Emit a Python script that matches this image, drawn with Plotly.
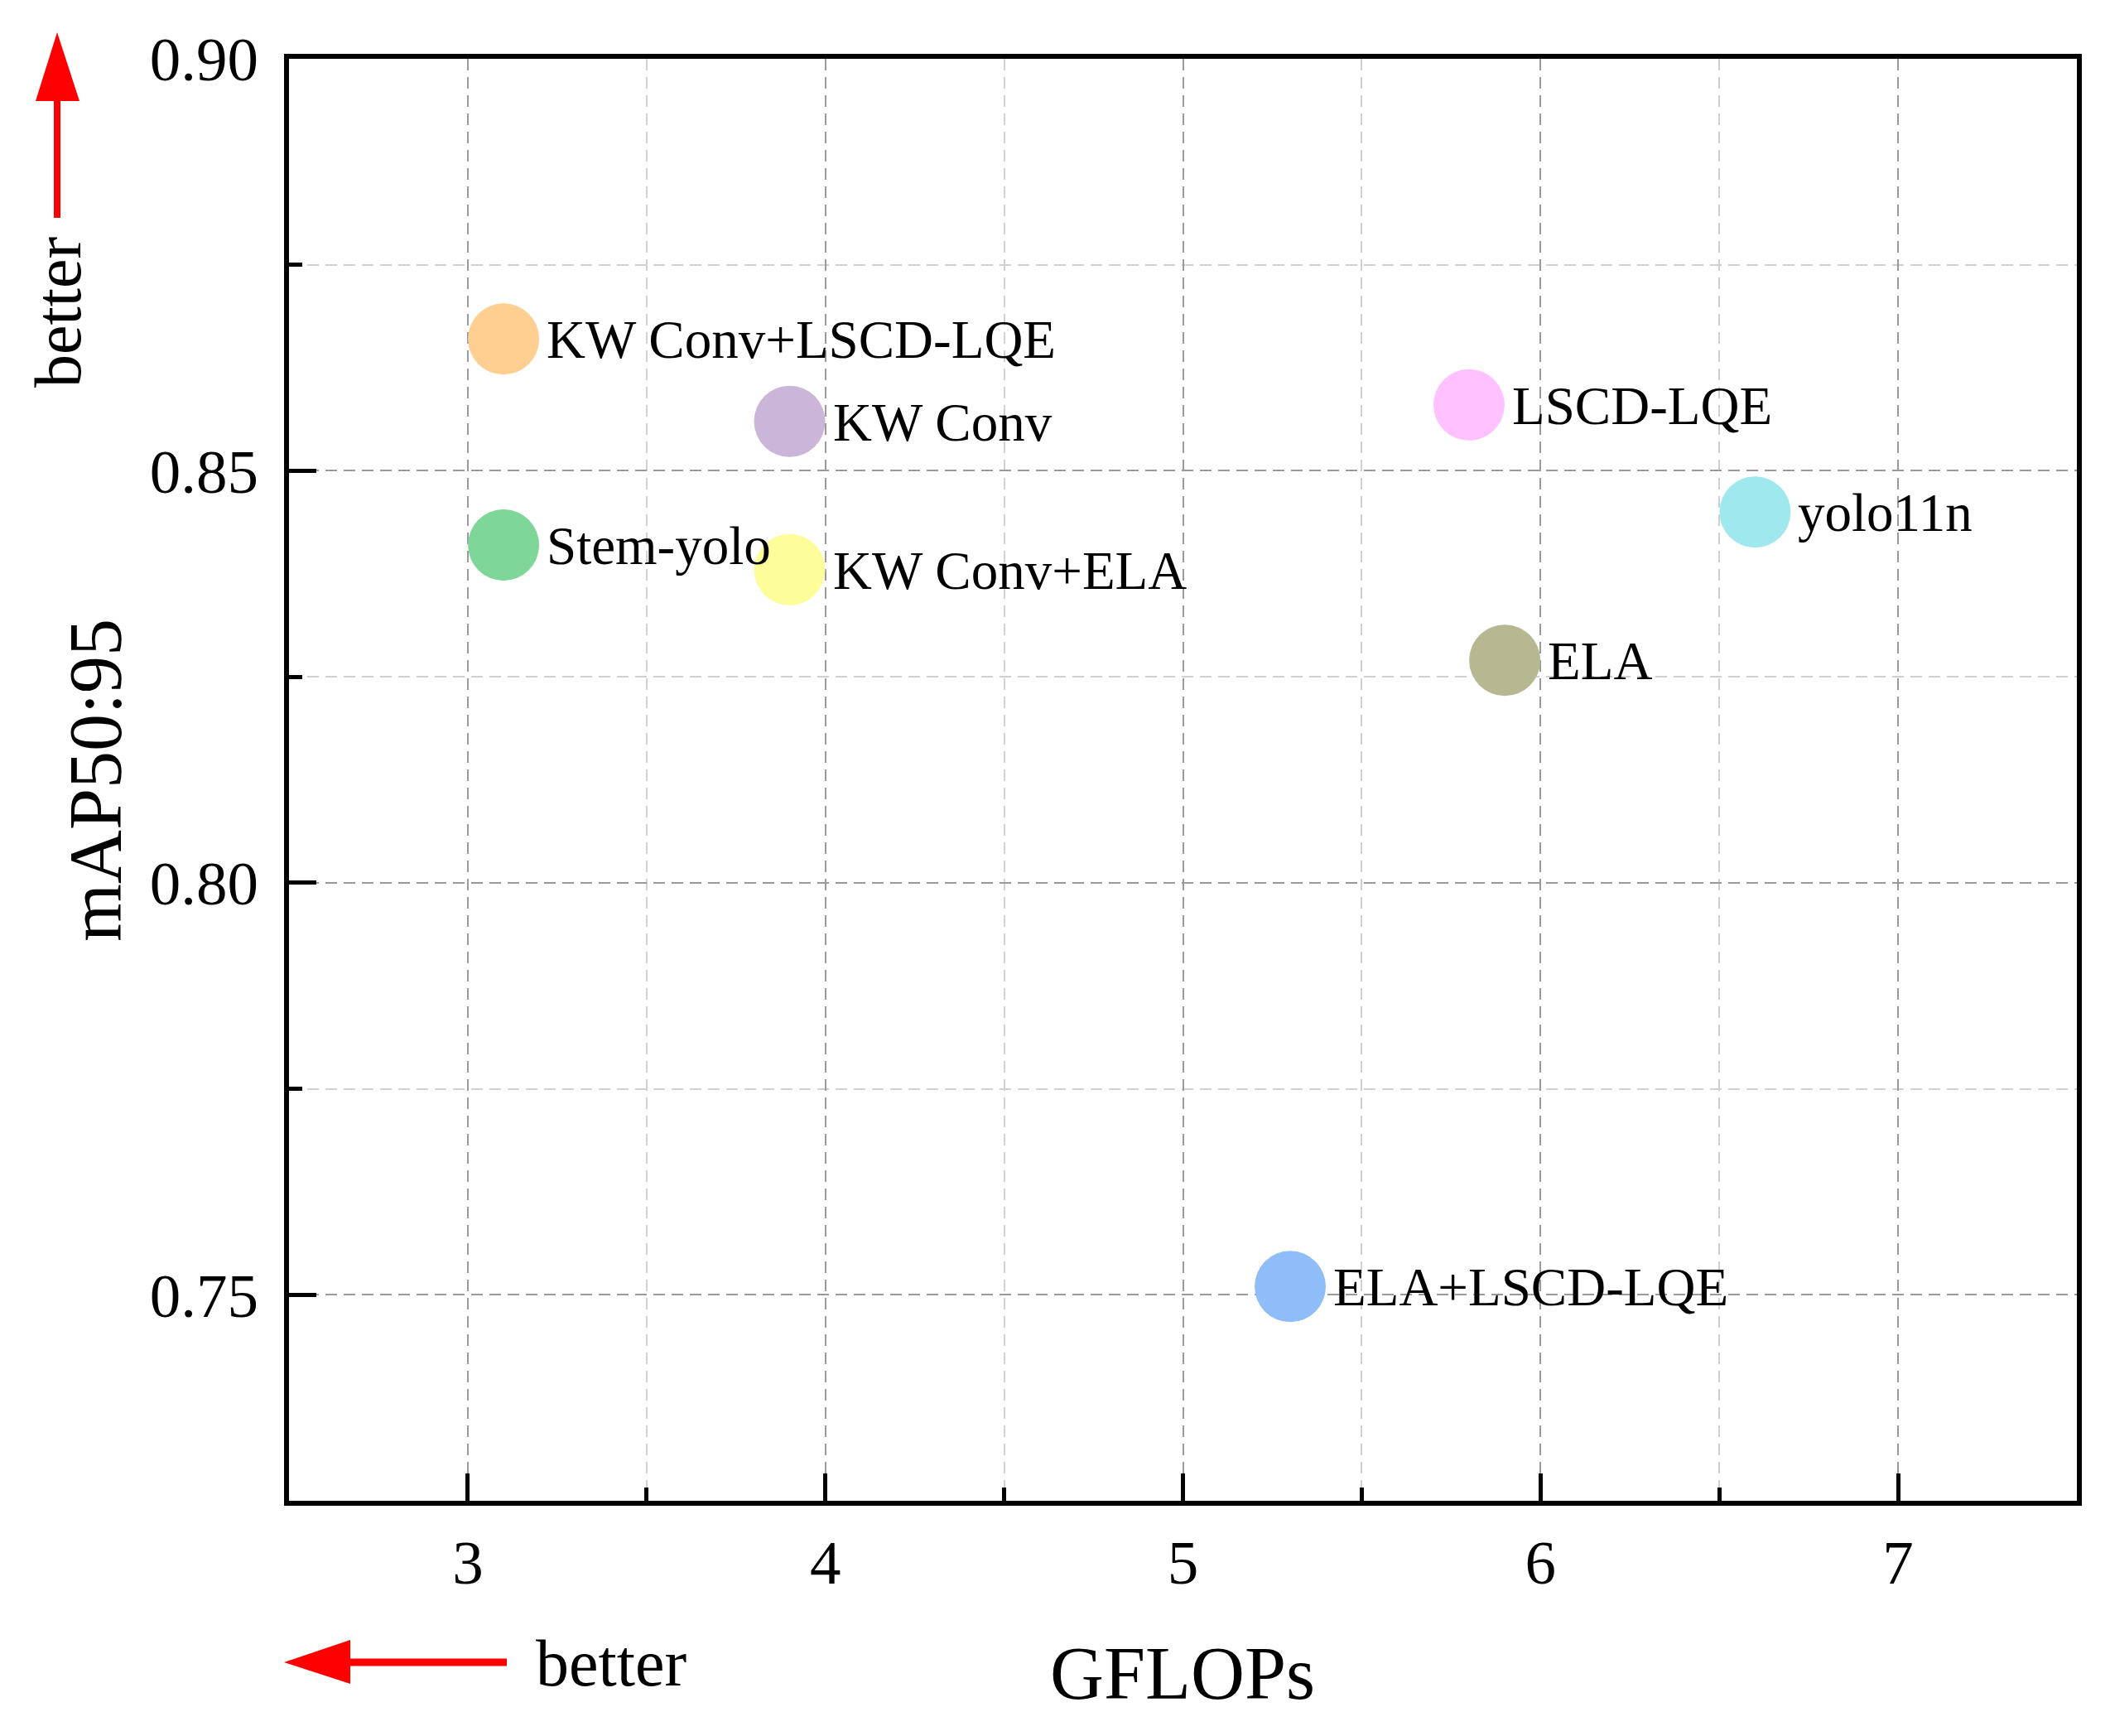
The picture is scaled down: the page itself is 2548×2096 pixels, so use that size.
import plotly.graph_objects as go

# ---- data ----
models = ["KW Conv+LSCD-LQE", "KW Conv", "LSCD-LQE", "yolo11n",
          "Stem-yolo", "KW Conv+ELA", "ELA", "ELA+LSCD-LQE"]
gflops = [3.1, 3.9, 5.8, 6.6, 3.1, 3.9, 5.9, 5.3]
map5095 = [0.866, 0.856, 0.858, 0.845, 0.841, 0.838, 0.827, 0.751]
colors = ["#FFCF91", "#CBB6D9", "#FFC1FF", "#9EE8EE",
          "#7ED699", "#FDFD9A", "#B6B892", "#8FBDF7"]

x_ticks = [3, 4, 5, 6, 7]
x_minor = [3.5, 4.5, 5.5, 6.5]
y_ticks = [0.75, 0.80, 0.85, 0.90]
y_tick_text = ["0.75", "0.80", "0.85", "0.90"]
y_minor = [0.775, 0.825, 0.875]

# page body has an 8px margin, so the figure is a bit smaller
W, H = 2540, 2088
ML, MR, MT, MB = 341, 40, 63, 284
PW, PH = W - ML - MR, H - MT - MB
OFF = 8
FONT = "Liberation Serif, Times New Roman, serif"


def P(px, py):
    """page pixel position -> paper coords (decorations only)"""
    return (px - OFF - ML) / PW, (H - MB - (py - OFF)) / PH


fig = go.Figure()
fig.add_trace(go.Scatter(
    x=gflops, y=map5095, mode="markers",
    marker=dict(size=86, color=colors, line=dict(width=0)),
    showlegend=False, cliponaxis=False,
))

annotations = []
# point labels, placed at each data point through the axes
for name, gx_, gy_ in zip(models, gflops, map5095):
    annotations.append(dict(text=name, x=gx_, y=gy_, xref="x", yref="y",
                            showarrow=False, xanchor="left", yanchor="middle",
                            xshift=50, yshift=-1,
                            font=dict(family=FONT, size=65, color="black")))

axis_common = dict(
    showline=True, linecolor="black", linewidth=6, mirror=True,
    ticks="inside", ticklen=33, tickwidth=5, tickcolor="black",
    tickfont=dict(family=FONT, size=75, color="black"),
    showgrid=True, gridcolor="#9a9a9a", gridwidth=2, griddash="14px,8px",
    zeroline=False,
)

fig.update_xaxes(
    range=[2.5, 7.5], tickmode="array", tickvals=x_ticks,
    ticklabelstandoff=4,
    minor=dict(tickmode="array", tickvals=x_minor, ticks="inside", ticklen=16,
               tickwidth=5, tickcolor="black", showgrid=True,
               gridcolor="#d0d0d0", gridwidth=2, griddash="14px,8px"),
    **axis_common,
)
fig.update_yaxes(
    range=[0.725, 0.90], tickmode="array", tickvals=y_ticks, ticktext=y_tick_text,
    ticklabelstandoff=16,
    minor=dict(tickmode="array", tickvals=y_minor, ticks="inside", ticklen=16,
               tickwidth=5, tickcolor="black", showgrid=True,
               gridcolor="#d0d0d0", gridwidth=2, griddash="14px,8px"),
    **axis_common,
)

# axis titles
gx, gy = P(1428, 2020)
annotations.append(dict(text="GFLOPs", x=gx, y=gy, xref="paper", yref="paper",
                        showarrow=False, xanchor="center", yanchor="middle",
                        font=dict(family=FONT, size=90, color="black")))
mx, my = P(116, 942)
annotations.append(dict(text="mAP50:95", x=mx, y=my, xref="paper", yref="paper",
                        showarrow=False, xanchor="center", yanchor="middle",
                        textangle=-90,
                        font=dict(family=FONT, size=90, color="black")))
# "better" labels
bx, by = P(70, 377)
annotations.append(dict(text="better", x=bx, y=by, xref="paper", yref="paper",
                        showarrow=False, xanchor="center", yanchor="middle",
                        textangle=-90,
                        font=dict(family=FONT, size=80, color="black")))
bx2, by2 = P(738, 2008)
annotations.append(dict(text="better", x=bx2, y=by2, xref="paper", yref="paper",
                        showarrow=False, xanchor="center", yanchor="middle",
                        font=dict(family=FONT, size=80, color="black")))

shapes = []
RED = "#FF0000"
# top arrow (pointing up)
x0, y0 = P(69, 120)
x1, y1 = P(69, 263)
shapes.append(dict(type="line", xref="paper", yref="paper", x0=x0, y0=y0, x1=x1, y1=y1,
                   line=dict(color=RED, width=8)))
t = P(69, 39); a = P(43, 122); b = P(96, 122)
shapes.append(dict(type="path", xref="paper", yref="paper",
                   path=f"M {t[0]} {t[1]} L {a[0]} {a[1]} L {b[0]} {b[1]} Z",
                   fillcolor=RED, line=dict(color=RED, width=0)))
# bottom arrow (pointing left)
x0, y0 = P(420, 2007)
x1, y1 = P(612, 2007)
shapes.append(dict(type="line", xref="paper", yref="paper", x0=x0, y0=y0, x1=x1, y1=y1,
                   line=dict(color=RED, width=9)))
t = P(343, 2007); a = P(423, 1980); b = P(423, 2033)
shapes.append(dict(type="path", xref="paper", yref="paper",
                   path=f"M {t[0]} {t[1]} L {a[0]} {a[1]} L {b[0]} {b[1]} Z",
                   fillcolor=RED, line=dict(color=RED, width=0)))

fig.update_layout(
    width=W, height=H,
    margin=dict(l=ML, r=MR, t=MT, b=MB, autoexpand=False),
    paper_bgcolor="white", plot_bgcolor="white",
    font=dict(family=FONT, color="black"),
    annotations=annotations, shapes=shapes,
    showlegend=False,
)

fig.write_html("out.html")
